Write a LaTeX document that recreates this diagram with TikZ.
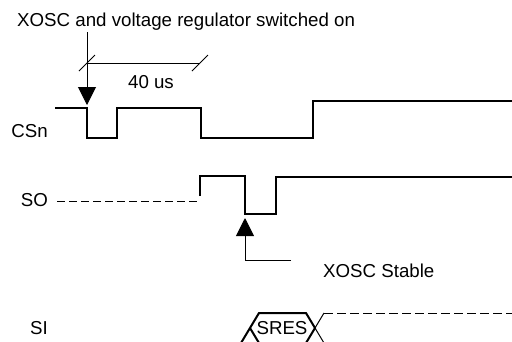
\documentclass[tikz,border=0pt]{standalone}
\usepackage{fontspec}
\setmainfont{Liberation Sans}
\usetikzlibrary{arrows.meta}
\begin{document}
\begin{tikzpicture}[x=1pt,y=-1pt,
  lbl/.style={inner sep=0pt, font=\fontsize{18.7}{22}\selectfont},
  wave/.style={line width=2pt, line join=miter},
  thinline/.style={line width=1pt},
  ann/.style={line width=1pt, -{Triangle[length=18pt,width=18pt]}},
  dashA/.style={line width=1pt, dash pattern=on 8pt off 4pt},
  dashB/.style={line width=1pt, dash pattern=on 9pt off 4pt},
]
\useasboundingbox (0,0) rectangle (512,341);

% title and annotation
\node[lbl, anchor=base west] (title) at (17,26) {XOSC and voltage regulator switched on};
\coordinate (a1s) at (87,32);
\coordinate (a1e) at (87,105);
\draw[ann] (a1s) -- (a1e);

\coordinate (d1) at (87,63);
\coordinate (d2) at (200,63);
\draw[thinline] (d1) -- (d2);
\draw[thinline] ([shift={(-8,8)}]d1) -- ([shift={(8,-8)}]d1);
\draw[thinline] ([shift={(-8,8)}]d2) -- ([shift={(8,-8)}]d2);
\node[lbl, anchor=base] (dim) at (151,88) {40 us};

% signal labels
\node[lbl, anchor=base east] (csn) at (48,137) {CSn};
\node[lbl, anchor=base east] (so) at (48,206) {SO};
\node[lbl, anchor=base east] (si) at (48,334) {SI};

% CSn
\draw[wave] (55,108) -| (87,138) -| (117,108) -| (201,138) -| (313,101) -- (512,101);

% SO
\draw[dashA] (57,201) -- (200,201);
\draw[wave] (200,196) |- (245,176) |- (276,214) |- (512,177);

% XOSC stable annotation
\coordinate (a2s) at (291,260);
\coordinate (a2m) at (245,260);
\coordinate (a2e) at (245,218);
\draw[ann] (a2s) -- (a2m) -- (a2e);
\node[lbl, anchor=base west] (stable) at (323,277) {XOSC Stable};

% SI
\draw[wave] (241,343) -- (259,313) -- (306,313) -- (315,328) -- (306,343) -- (259,343) -- (250,328);
\draw[thinline] (315,328) -- (324,313);
\draw[thinline] (315,328) -- (324,343);
\draw[dashB] (324,313) -- (512,313);
\node[lbl, anchor=base] (sres) at (282,334) {SRES};
\end{tikzpicture}
\end{document}
